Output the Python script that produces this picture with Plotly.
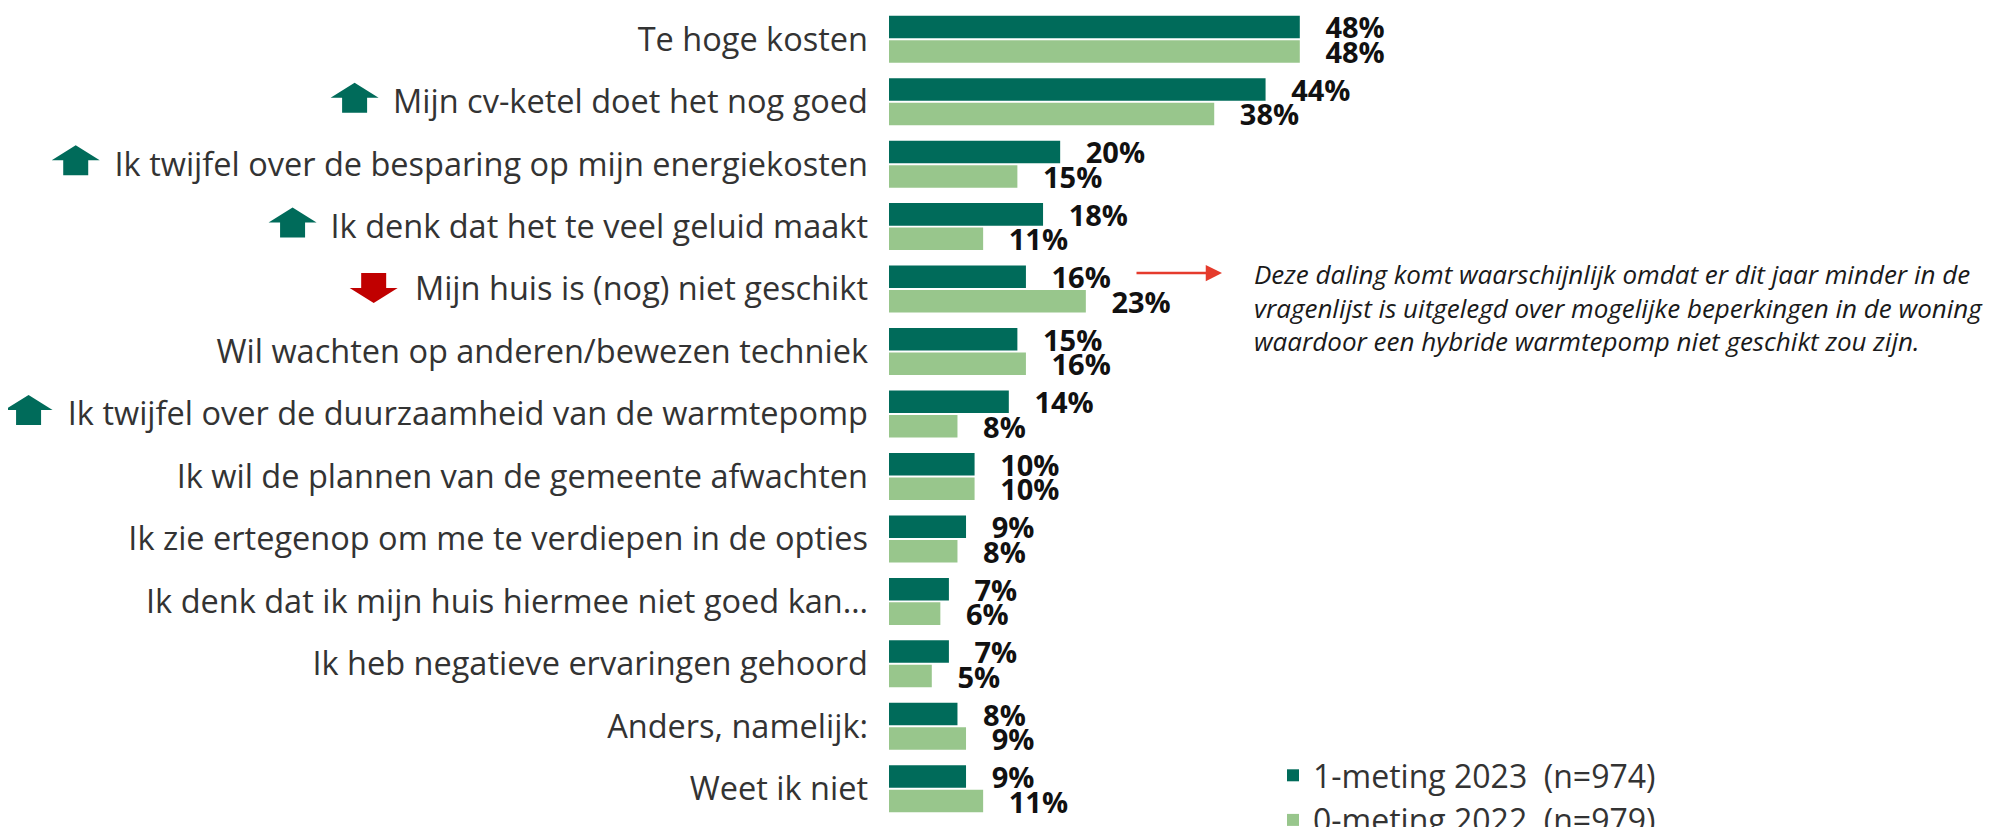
import plotly.graph_objects as go

categories = [
    "Te hoge kosten",
    "Mijn cv-ketel doet het nog goed",
    "Ik twijfel over de besparing op mijn energiekosten",
    "Ik denk dat het te veel geluid maakt",
    "Mijn huis is (nog) niet geschikt",
    "Wil wachten op anderen/bewezen techniek",
    "Ik twijfel over de duurzaamheid van de warmtepomp",
    "Ik wil de plannen van de gemeente afwachten",
    "Ik zie ertegenop om me te verdiepen in de opties",
    "Ik denk dat ik mijn huis hiermee niet goed kan…",
    "Ik heb negatieve ervaringen gehoord",
    "Anders, namelijk:",
    "Weet ik niet",
]
meting_2023 = [48, 44, 20, 18, 16, 15, 14, 10, 9, 7, 7, 8, 9]
meting_2022 = [48, 38, 15, 11, 23, 16, 8, 10, 8, 6, 5, 9, 11]
change = ["", "up", "up", "up", "down", "", "up", "", "", "", "", "", ""]

name_2023 = "1-meting 2023\u00a0 (n=974)"
name_2022 = "0-meting 2022\u00a0 (n=979)"
note_lines = [
    "Deze daling komt waarschijnlijk omdat er dit jaar minder in de",
    "vragenlijst is uitgelegd over mogelijke beperkingen in de woning",
    "waardoor een hybride warmtepomp niet geschikt zou zijn.",
]

DARK = "#006b5a"
LIGHT = "#98c68c"
RED = "#c00000"
FONT = "Open Sans"
LABEL_SIZE = 32.5

OFF = 8  # page body margin of the html page
W, H = 1990, 819
ML, MR, MT, MB = 881, 82, 0, 7
PW = W - ML - MR
PH = H - MT - MB
XMAX = 120
STANDOFF = 20

# Open Sans Regular advance widths (units per em 2048), used to place the arrow icons
OS_W = {" ": 532, "(": 596, ")": 596, "-": 659, "/": 752, ",": 502, ":": 545, ".": 545,
        "A": 1296, "I": 571, "M": 1858, "T": 1128, "W": 1884,
        "a": 1139, "b": 1255, "c": 975, "d": 1255, "e": 1149, "f": 694, "g": 1122,
        "h": 1257, "i": 518, "j": 518, "k": 1075, "l": 518, "m": 1905, "n": 1257,
        "o": 1237, "p": 1255, "q": 1255, "r": 836, "s": 977, "t": 723, "u": 1257,
        "v": 1026, "w": 1593, "x": 1073, "y": 1028, "z": 977}


def text_width(s, size):
    return sum(OS_W.get(ch, 1150) for ch in s) / 2048 * size


def px_x(page_x):
    return (page_x - OFF - ML) / PW


def px_y(page_y):
    return (H - MB - (page_y - OFF)) / PH


fig = go.Figure()
for name, vals, col in [(name_2023, meting_2023, DARK), (name_2022, meting_2022, LIGHT)]:
    fig.add_trace(go.Bar(
        y=categories, x=vals, orientation="h", name=name,
        marker=dict(color=col, line=dict(width=0)),
        texttemplate="\u00a0\u00a0\u00a0%{x}%", textposition="outside",
        textfont=dict(family=FONT, size=29, color="#111111", weight="bold"),
        constraintext="none", cliponaxis=False,
    ))

UP_PATH = "M0,19 L24,4 L12.5,4 L12.5,-11 L-12.5,-11 L-12.5,4 L-24,4 Z"
DOWN_PATH = "M0,-14 L24,1 L12.5,1 L12.5,16 L-12.5,16 L-12.5,1 L-24,1 Z"
for cat, ch in zip(categories, change):
    if not ch:
        continue
    label_left = ML - STANDOFF - 2 - text_width(cat, LABEL_SIZE)
    gap = 13 if ch == "up" else 16
    cx = label_left - gap - 24
    fig.add_shape(type="path", xref="paper", yref="y",
                  xsizemode="pixel", ysizemode="pixel",
                  xanchor=(cx - ML) / PW, yanchor=cat,
                  path=UP_PATH if ch == "up" else DOWN_PATH,
                  fillcolor=DARK if ch == "up" else RED,
                  line=dict(width=0), layer="above")

fig.update_layout(
    width=W, height=H,
    margin=dict(l=ML, r=MR, t=MT, b=MB, autoexpand=False),
    paper_bgcolor="white", plot_bgcolor="white",
    barmode="group", bargap=0.216, bargroupgap=0.08,
    font=dict(family=FONT, size=30, color="#333333"),
    showlegend=True,
    legend=dict(x=px_x(1273), xanchor="left", y=px_y(748), yanchor="top",
                font=dict(family=FONT, size=32, color="#333333"),
                bgcolor="rgba(0,0,0,0)", traceorder="normal"),
    xaxis=dict(range=[0, XMAX], visible=False, showgrid=False, zeroline=False),
    yaxis=dict(autorange="reversed", ticks="", showgrid=False, zeroline=False,
               showline=False, ticklabelstandoff=STANDOFF, automargin=False,
               tickfont=dict(family=FONT, size=LABEL_SIZE, color="#333333")),
)

for i, line in enumerate(note_lines):
    fig.add_annotation(xref="paper", yref="paper", x=px_x(1252), y=px_y(274 + 33.6 * i),
                       xanchor="left", yanchor="middle", align="left", showarrow=False,
                       text=line, font=dict(family=FONT, size=26, color="#1a1a1a", style="italic"))
fig.add_annotation(xref="paper", yref="paper", x=px_x(1222), y=px_y(273),
                   text="", showarrow=True, ax=-87, ay=0, axref="pixel", ayref="pixel",
                   arrowhead=2, arrowsize=1.3, arrowwidth=2.5, arrowcolor="#e53b2c",
                   standoff=0)

fig.write_html("out.html")
